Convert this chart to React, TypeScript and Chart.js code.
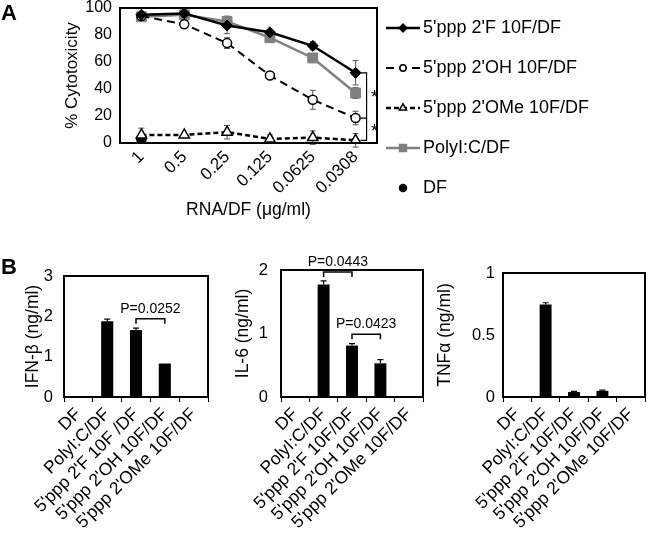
import React, { useEffect, useRef } from 'react';
import { Chart, registerables } from 'chart.js';

Chart.register(...registerables);

const FONT = "'Liberation Sans', Arial, Helvetica, sans-serif";
Chart.defaults.font.family = FONT;
Chart.defaults.color = '#000';

// ---------- Panel A data ----------
const doseLabels = ['1', '0.5', '0.25', '0.125', '0.0625', '0.0308'];
const f2Values = [95, 96, 87, 82, 72, 52];
const f2Err = [1, 1, 6, 2, 3, 9];
const ohValues = [94, 88, 74, 50, 32, 18.5];
const ohErr = [1, 1, 4, 3, 7, 5];
const omeValues = [6, 6, 8, 3, 4, 2];
const omeErr = [5, 1, 5, 3, 5, 5];
const polyValues = [93.5, 95, 90, 78, 63, 37];
const polyErr = [1, 1, 4, 3, 3, 4];
const dfValues = [3, null, null, null, null, null];
const dfErr = [1, 0, 0, 0, 0, 0];
const seriesNames = ["5'ppp 2'F 10F/DF", "5'ppp 2'OH 10F/DF", "5'ppp 2'OMe 10F/DF", 'PolyI:C/DF', 'DF'];

// ---------- Panel B data ----------
const groupLabelsIFN = ['DF', 'PolyI:C/DF', "5'ppp 2'F 10F /DF", "5'ppp 2'OH 10F/DF", "5'ppp 2'OMe 10F/DF"];
const groupLabels = ['DF', 'PolyI:C/DF', "5'ppp 2'F 10F/DF", "5'ppp 2'OH 10F/DF", "5'ppp 2'OMe 10F/DF"];
const ifnValues = [0, 1.88, 1.66, 0.83, 0];
const ifnErr = [0, 0.05, 0.05, 0, 0];
const il6Values = [0, 1.77, 0.81, 0.53, 0.01];
const il6Err = [0, 0.06, 0.03, 0.06, 0];
const tnfValues = [0, 0.745, 0.04, 0.05, 0];
const tnfErr = [0, 0.015, 0.005, 0.005, 0];
const ifnBrackets = [{ a: 2, b: 3, v: 1.94, label: 'P=0.0252' }];
const il6Brackets = [
  { a: 1, b: 2, v: 1.97, label: 'P=0.0443' },
  { a: 2, b: 3, v: 0.99, label: 'P=0.0423' },
];

function drawMarker(ctx: CanvasRenderingContext2D, style: string, x: number, y: number, r: number, fill: string, stroke: string, lw: number) {
  ctx.save();
  ctx.fillStyle = fill;
  ctx.strokeStyle = stroke;
  ctx.lineWidth = lw;
  ctx.setLineDash([]);
  ctx.beginPath();
  if (style === 'rectRot') {
    ctx.moveTo(x, y - r); ctx.lineTo(x + r, y); ctx.lineTo(x, y + r); ctx.lineTo(x - r, y); ctx.closePath();
  } else if (style === 'rect') {
    const s = r * Math.SQRT1_2;
    ctx.rect(x - s, y - s, 2 * s, 2 * s);
  } else if (style === 'triangle') {
    ctx.moveTo(x, y - r); ctx.lineTo(x + r * 0.87, y + r * 0.5); ctx.lineTo(x - r * 0.87, y + r * 0.5); ctx.closePath();
  } else {
    ctx.arc(x, y, r, 0, Math.PI * 2);
  }
  ctx.fill();
  ctx.stroke();
  ctx.restore();
}

function frameAndLetter(letter: string | null, lx: number, ly: number) {
  return {
    id: 'frame',
    afterDraw(chart: any) {
      const { ctx, chartArea } = chart;
      ctx.save();
      ctx.strokeStyle = '#000';
      ctx.lineWidth = 2;
      ctx.strokeRect(chartArea.left, chartArea.top, chartArea.right - chartArea.left, chartArea.bottom - chartArea.top);
      if (letter) {
        ctx.fillStyle = '#000';
        ctx.font = `bold 22px ${FONT}`;
        ctx.textAlign = 'left';
        ctx.textBaseline = 'middle';
        ctx.fillText(letter, lx, ly);
      }
      ctx.restore();
    },
  };
}

function errorBars(errs: (number[] | null)[], color: string, lw: number, cap: number, upperOnly: boolean, before: boolean) {
  const fn = (chart: any) => {
    const y = chart.scales.y;
    const ctx = chart.ctx;
    ctx.save();
    ctx.strokeStyle = color;
    ctx.lineWidth = lw;
    ctx.setLineDash([]);
    errs.forEach((e, di) => {
      if (!e) return;
      const meta = chart.getDatasetMeta(di);
      const data = chart.data.datasets[di].data;
      meta.data.forEach((el: any, j: number) => {
        const v = data[j];
        if (v == null || !e[j]) return;
        const yHi = y.getPixelForValue(v + e[j]);
        const yLo = upperOnly ? y.getPixelForValue(v) : y.getPixelForValue(v - e[j]);
        ctx.beginPath();
        ctx.moveTo(el.x, yHi); ctx.lineTo(el.x, yLo);
        ctx.moveTo(el.x - cap, yHi); ctx.lineTo(el.x + cap, yHi);
        if (!upperOnly) { ctx.moveTo(el.x - cap, yLo); ctx.lineTo(el.x + cap, yLo); }
        ctx.stroke();
      });
    });
    ctx.restore();
  };
  return before ? { id: 'errbars', beforeDatasetsDraw: fn } : { id: 'errbars', afterDatasetsDraw: fn };
}

function brackets(list: { a: number; b: number; v: number; label: string }[]) {
  return {
    id: 'brackets',
    afterDraw(chart: any) {
      const { ctx } = chart;
      const y = chart.scales.y;
      const meta = chart.getDatasetMeta(0);
      ctx.save();
      ctx.strokeStyle = '#000';
      ctx.lineWidth = 1.5;
      ctx.fillStyle = '#000';
      ctx.font = `14px ${FONT}`;
      ctx.textAlign = 'center';
      ctx.textBaseline = 'middle';
      list.forEach((br) => {
        const xa = meta.data[br.a].x;
        const xb = meta.data[br.b].x;
        const yb = y.getPixelForValue(br.v);
        ctx.beginPath();
        ctx.moveTo(xa, yb + 5); ctx.lineTo(xa, yb); ctx.lineTo(xb, yb); ctx.lineTo(xb, yb + 5);
        ctx.stroke();
        ctx.fillText(br.label, (xa + xb) / 2, yb - 10);
      });
      ctx.restore();
    },
  };
}

const legendA = {
  id: 'legendA',
  afterDraw(chart: any) {
    const { ctx, chartArea } = chart;
    ctx.save();
    const x0 = chartArea.right + 9;
    seriesNames.forEach((name, i) => {
      const ds = chart.data.datasets[i];
      const y = chartArea.top + 20 + 40 * i;
      if (ds.showLine !== false) {
        ctx.strokeStyle = ds.borderColor;
        ctx.lineWidth = ds.borderWidth;
        ctx.setLineDash(ds.borderDash || []);
        ctx.beginPath(); ctx.moveTo(x0, y); ctx.lineTo(x0 + 34, y); ctx.stroke();
      }
      drawMarker(ctx, ds.pointStyle, x0 + 17, y, ds.pointRadius * 0.7, ds.pointBackgroundColor, ds.pointBorderColor, 1.5);
      ctx.fillStyle = '#000';
      ctx.font = `18px ${FONT}`;
      ctx.textBaseline = 'middle';
      ctx.textAlign = 'left';
      ctx.fillText(name, x0 + 37, y);
    });
    ctx.restore();
  },
};

const sigA = {
  id: 'sigA',
  afterDatasetsDraw(chart: any) {
    const { ctx } = chart;
    const y = chart.scales.y;
    const last = doseLabels.length - 1;
    const xs = chart.getDatasetMeta(0).data[last].x;
    const bx = xs + 11;
    const yTop = y.getPixelForValue(f2Values[last]);
    const yMid = y.getPixelForValue(ohValues[last]);
    const yBot = y.getPixelForValue(omeValues[last]);
    ctx.save();
    ctx.strokeStyle = '#000';
    ctx.lineWidth = 1.2;
    ctx.beginPath();
    ctx.moveTo(bx - 6, yTop); ctx.lineTo(bx, yTop); ctx.lineTo(bx, yBot); ctx.lineTo(bx - 6, yBot);
    ctx.moveTo(xs + 5, yMid); ctx.lineTo(bx, yMid);
    ctx.stroke();
    ctx.fillStyle = '#000';
    ctx.font = `18px ${FONT}`;
    ctx.textAlign = 'center';
    ctx.textBaseline = 'middle';
    ctx.fillText('*', bx + 8, (yTop + yMid) / 2 + 3);
    ctx.fillText('*', bx + 8, (yMid + yBot) / 2 + 3);
    ctx.restore();
  },
};

function barConfig(labels: string[], values: number[], errs: number[], max: number, step: number, title: string,
  padRight: number, padTop: number, yWidth: number, tickPad: number, titlePad: number, extra: any[]) {
  return {
    type: 'bar',
    data: {
      labels,
      datasets: [{ data: values, backgroundColor: '#000', borderWidth: 0, categoryPercentage: 1, barPercentage: 0.42 }],
    },
    options: {
      animation: false,
      responsive: false,
      layout: { padding: { left: 0, right: padRight, top: padTop, bottom: 0 } },
      plugins: { legend: { display: false }, tooltip: { enabled: false } },
      scales: {
        x: {
          grid: { display: true, drawOnChartArea: false, drawTicks: true, tickLength: 5, color: '#000', lineWidth: 1 },
          border: { display: false },
          ticks: { minRotation: 45, maxRotation: 45, autoSkip: false, padding: 2, font: { size: 17.5 }, color: '#000' },
          afterFit: (s: any) => { s.height = 139; },
        },
        y: {
          min: 0, max,
          ticks: { stepSize: step, padding: 0, font: { size: 16.5, lineHeight: 0.8 }, color: '#000', callback: (v: any) => `${v}` },
          grid: { display: false, drawTicks: true, tickLength: tickPad },
          border: { display: false },
          title: { display: true, text: title, font: { size: 17.5 }, padding: { top: titlePad, bottom: 0 }, color: '#000' },
          afterFit: (s: any) => { s.width = yWidth; },
        },
      },
    },
    plugins: [errorBars([errs], '#000', 1.2, 3, true, false), ...extra],
  };
}

export default function App() {
  const refA = useRef<HTMLCanvasElement>(null);
  const refB1 = useRef<HTMLCanvasElement>(null);
  const refB2 = useRef<HTMLCanvasElement>(null);
  const refB3 = useRef<HTMLCanvasElement>(null);

  useEffect(() => {
    const charts: Chart[] = [];
    const cA: any = {
      type: 'line',
      data: {
        labels: doseLabels,
        datasets: [
          { label: seriesNames[0], data: f2Values, borderColor: '#000', borderWidth: 2.5, pointStyle: 'rectRot', pointRadius: 5.5, pointBackgroundColor: '#000', pointBorderColor: '#000', pointBorderWidth: 1, tension: 0 },
          { label: seriesNames[1], data: ohValues, borderColor: '#000', borderWidth: 2, borderDash: [8, 5], pointStyle: 'circle', pointRadius: 4.5, pointBackgroundColor: '#fff', pointBorderColor: '#000', pointBorderWidth: 1.5, tension: 0 },
          { label: seriesNames[2], data: omeValues, borderColor: '#000', borderWidth: 2.5, borderDash: [5, 3], pointStyle: 'triangle', pointRadius: 6, pointBackgroundColor: '#fff', pointBorderColor: '#000', pointBorderWidth: 1.5, tension: 0 },
          { label: seriesNames[3], data: polyValues, borderColor: '#808080', borderWidth: 2.5, pointStyle: 'rect', pointRadius: 7, pointBackgroundColor: '#808080', pointBorderColor: '#808080', pointBorderWidth: 1, tension: 0 },
          { label: seriesNames[4], data: dfValues, showLine: false, borderColor: '#000', pointStyle: 'circle', pointRadius: 5, pointBackgroundColor: '#000', pointBorderColor: '#000', pointBorderWidth: 1 },
        ],
      },
      options: {
        animation: false,
        responsive: false,
        layout: { padding: { left: 0, right: 273, top: 7, bottom: 0 } },
        plugins: { legend: { display: false }, tooltip: { enabled: false } },
        scales: {
          x: {
            offset: true,
            grid: { display: false, drawTicks: false },
            border: { display: false },
            ticks: { minRotation: 45, maxRotation: 45, autoSkip: false, padding: 4, font: { size: 17 }, color: '#000' },
            title: { display: true, text: 'RNA/DF (μg/ml)', font: { size: 17.5 }, padding: { top: 0, bottom: 34 }, color: '#000' },
            afterFit: (s: any) => { s.height = 112; },
          },
          y: {
            min: 0, max: 100,
            ticks: { stepSize: 20, padding: 0, font: { size: 16, lineHeight: 0.8 }, color: '#000' },
            grid: { display: false, drawTicks: true, tickLength: 8 },
            border: { display: false },
            title: { display: true, text: '% Cytotoxicity', font: { size: 17 }, padding: { top: 62, bottom: 0 }, color: '#000' },
            afterFit: (s: any) => { s.width = 120; },
          },
        },
      },
      plugins: [errorBars([f2Err, ohErr, omeErr, polyErr, dfErr], '#555', 1, 3, false, true), sigA, legendA, frameAndLetter('A', 1, 14)],
    };
    charts.push(new Chart(refA.current as HTMLCanvasElement, cA));

    charts.push(new Chart(refB1.current as HTMLCanvasElement, barConfig(groupLabelsIFN, ifnValues, ifnErr, 3, 1, 'IFN-β (ng/ml)', 7, 21, 64, 11, 22.5, [brackets(ifnBrackets), frameAndLetter('B', 1, 13)]) as any));
    charts.push(new Chart(refB2.current as HTMLCanvasElement, barConfig(groupLabels, il6Values, il6Err, 2, 1, 'IL-6 (ng/ml)', 7, 15, 66, 13, 17.5, [brackets(il6Brackets), frameAndLetter(null, 0, 0)]) as any));
    charts.push(new Chart(refB3.current as HTMLCanvasElement, barConfig(groupLabels, tnfValues, tnfErr, 1, 0.5, 'TNFα (ng/ml)', 5, 18, 73, 8, 4.5, [frameAndLetter(null, 0, 0)]) as any));

    return () => { charts.forEach((c) => c.destroy()); };
  }, []);

  const abs = (left: number, top: number, width: number, height: number): React.CSSProperties => ({
    position: 'absolute', left, top, width, height, display: 'block',
  });

  return (
    <div style={{ position: 'fixed', left: 0, top: 0, width: 650, height: 536, background: '#fff', overflow: 'hidden' }}>
      <canvas ref={refA} width={650} height={255} style={abs(0, 0, 650, 255)} />
      <canvas ref={refB1} width={215} height={281} style={abs(0, 255, 215, 281)} />
      <canvas ref={refB2} width={215} height={281} style={abs(215, 255, 215, 281)} />
      <canvas ref={refB3} width={220} height={281} style={abs(430, 255, 220, 281)} />
    </div>
  );
}
